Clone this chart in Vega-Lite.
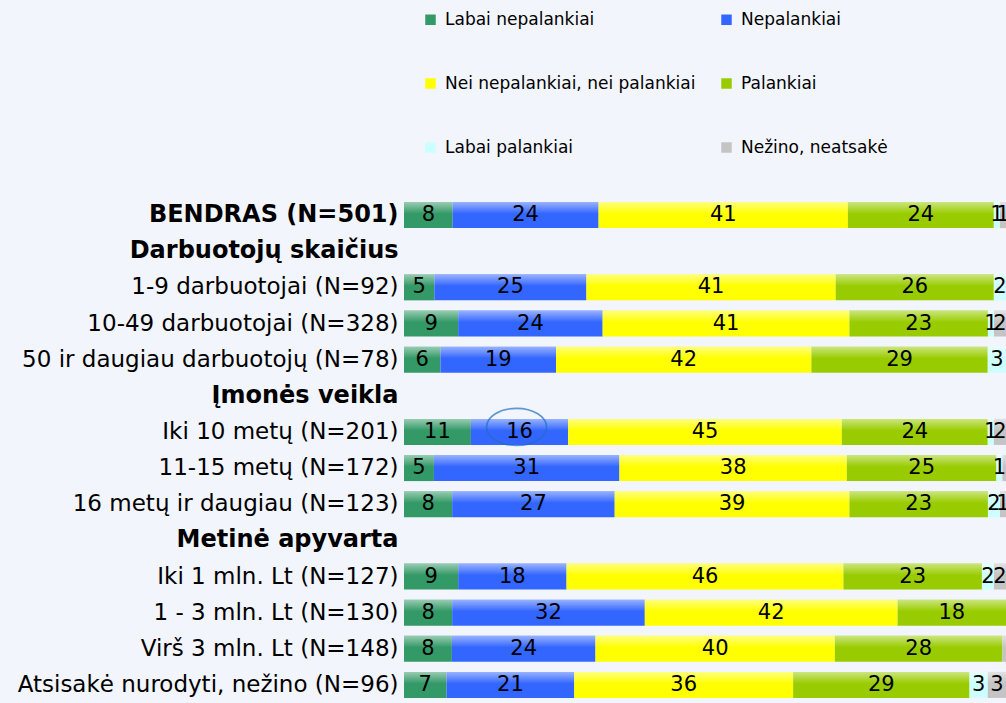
{
  "$schema": "https://vega.github.io/schema/vega-lite/v6.json",
  "width": 602,
  "height": 506,
  "autosize": {"type": "none"},
  "padding": {"left": 404, "top": 197, "right": 0, "bottom": 0},
  "background": "#F2F5FB",
  "config": {"view": {"stroke": null}, "font": "DejaVu Sans"},
  "datasets": {
    "answers": [
      {"group": "BENDRAS (N=501)", "answer": "Labai nepalankiai", "code": 1, "value": 8},
      {"group": "BENDRAS (N=501)", "answer": "Nepalankiai", "code": 2, "value": 24},
      {"group": "BENDRAS (N=501)", "answer": "Nei nepalankiai, nei palankiai", "code": 3, "value": 41},
      {"group": "BENDRAS (N=501)", "answer": "Palankiai", "code": 4, "value": 24},
      {"group": "BENDRAS (N=501)", "answer": "Labai palankiai", "code": 5, "value": 1},
      {"group": "BENDRAS (N=501)", "answer": "Nežino, neatsakė", "code": 6, "value": 1},
      {"group": "1-9 darbuotojai (N=92)", "answer": "Labai nepalankiai", "code": 1, "value": 5},
      {"group": "1-9 darbuotojai (N=92)", "answer": "Nepalankiai", "code": 2, "value": 25},
      {"group": "1-9 darbuotojai (N=92)", "answer": "Nei nepalankiai, nei palankiai", "code": 3, "value": 41},
      {"group": "1-9 darbuotojai (N=92)", "answer": "Palankiai", "code": 4, "value": 26},
      {"group": "1-9 darbuotojai (N=92)", "answer": "Labai palankiai", "code": 5, "value": 2},
      {"group": "10-49 darbuotojai (N=328)", "answer": "Labai nepalankiai", "code": 1, "value": 9},
      {"group": "10-49 darbuotojai (N=328)", "answer": "Nepalankiai", "code": 2, "value": 24},
      {"group": "10-49 darbuotojai (N=328)", "answer": "Nei nepalankiai, nei palankiai", "code": 3, "value": 41},
      {"group": "10-49 darbuotojai (N=328)", "answer": "Palankiai", "code": 4, "value": 23},
      {"group": "10-49 darbuotojai (N=328)", "answer": "Labai palankiai", "code": 5, "value": 1},
      {"group": "10-49 darbuotojai (N=328)", "answer": "Nežino, neatsakė", "code": 6, "value": 2},
      {"group": "50 ir daugiau darbuotojų (N=78)", "answer": "Labai nepalankiai", "code": 1, "value": 6},
      {"group": "50 ir daugiau darbuotojų (N=78)", "answer": "Nepalankiai", "code": 2, "value": 19},
      {"group": "50 ir daugiau darbuotojų (N=78)", "answer": "Nei nepalankiai, nei palankiai", "code": 3, "value": 42},
      {"group": "50 ir daugiau darbuotojų (N=78)", "answer": "Palankiai", "code": 4, "value": 29},
      {"group": "50 ir daugiau darbuotojų (N=78)", "answer": "Labai palankiai", "code": 5, "value": 3},
      {"group": "Iki 10 metų (N=201)", "answer": "Labai nepalankiai", "code": 1, "value": 11},
      {"group": "Iki 10 metų (N=201)", "answer": "Nepalankiai", "code": 2, "value": 16},
      {"group": "Iki 10 metų (N=201)", "answer": "Nei nepalankiai, nei palankiai", "code": 3, "value": 45},
      {"group": "Iki 10 metų (N=201)", "answer": "Palankiai", "code": 4, "value": 24},
      {"group": "Iki 10 metų (N=201)", "answer": "Labai palankiai", "code": 5, "value": 1},
      {"group": "Iki 10 metų (N=201)", "answer": "Nežino, neatsakė", "code": 6, "value": 2},
      {"group": "11-15 metų (N=172)", "answer": "Labai nepalankiai", "code": 1, "value": 5},
      {"group": "11-15 metų (N=172)", "answer": "Nepalankiai", "code": 2, "value": 31},
      {"group": "11-15 metų (N=172)", "answer": "Nei nepalankiai, nei palankiai", "code": 3, "value": 38},
      {"group": "11-15 metų (N=172)", "answer": "Palankiai", "code": 4, "value": 25},
      {"group": "11-15 metų (N=172)", "answer": "Labai palankiai", "code": 5, "value": 1},
      {"group": "11-15 metų (N=172)", "answer": "Nežino, neatsakė", "code": 6, "value": 0.6},
      {"group": "16 metų ir daugiau (N=123)", "answer": "Labai nepalankiai", "code": 1, "value": 8},
      {"group": "16 metų ir daugiau (N=123)", "answer": "Nepalankiai", "code": 2, "value": 27},
      {"group": "16 metų ir daugiau (N=123)", "answer": "Nei nepalankiai, nei palankiai", "code": 3, "value": 39},
      {"group": "16 metų ir daugiau (N=123)", "answer": "Palankiai", "code": 4, "value": 23},
      {"group": "16 metų ir daugiau (N=123)", "answer": "Labai palankiai", "code": 5, "value": 2},
      {"group": "16 metų ir daugiau (N=123)", "answer": "Nežino, neatsakė", "code": 6, "value": 1},
      {"group": "Iki 1 mln. Lt (N=127)", "answer": "Labai nepalankiai", "code": 1, "value": 9},
      {"group": "Iki 1 mln. Lt (N=127)", "answer": "Nepalankiai", "code": 2, "value": 18},
      {"group": "Iki 1 mln. Lt (N=127)", "answer": "Nei nepalankiai, nei palankiai", "code": 3, "value": 46},
      {"group": "Iki 1 mln. Lt (N=127)", "answer": "Palankiai", "code": 4, "value": 23},
      {"group": "Iki 1 mln. Lt (N=127)", "answer": "Labai palankiai", "code": 5, "value": 2},
      {"group": "Iki 1 mln. Lt (N=127)", "answer": "Nežino, neatsakė", "code": 6, "value": 2},
      {"group": "1 - 3 mln. Lt (N=130)", "answer": "Labai nepalankiai", "code": 1, "value": 8},
      {"group": "1 - 3 mln. Lt (N=130)", "answer": "Nepalankiai", "code": 2, "value": 32},
      {"group": "1 - 3 mln. Lt (N=130)", "answer": "Nei nepalankiai, nei palankiai", "code": 3, "value": 42},
      {"group": "1 - 3 mln. Lt (N=130)", "answer": "Palankiai", "code": 4, "value": 18},
      {"group": "Virš 3 mln. Lt (N=148)", "answer": "Labai nepalankiai", "code": 1, "value": 8},
      {"group": "Virš 3 mln. Lt (N=148)", "answer": "Nepalankiai", "code": 2, "value": 24},
      {"group": "Virš 3 mln. Lt (N=148)", "answer": "Nei nepalankiai, nei palankiai", "code": 3, "value": 40},
      {"group": "Virš 3 mln. Lt (N=148)", "answer": "Palankiai", "code": 4, "value": 28},
      {"group": "Virš 3 mln. Lt (N=148)", "answer": "Nežino, neatsakė", "code": 6, "value": 0.6},
      {"group": "Atsisakė nurodyti, nežino (N=96)", "answer": "Labai nepalankiai", "code": 1, "value": 7},
      {"group": "Atsisakė nurodyti, nežino (N=96)", "answer": "Nepalankiai", "code": 2, "value": 21},
      {"group": "Atsisakė nurodyti, nežino (N=96)", "answer": "Nei nepalankiai, nei palankiai", "code": 3, "value": 36},
      {"group": "Atsisakė nurodyti, nežino (N=96)", "answer": "Palankiai", "code": 4, "value": 29},
      {"group": "Atsisakė nurodyti, nežino (N=96)", "answer": "Labai palankiai", "code": 5, "value": 3},
      {"group": "Atsisakė nurodyti, nežino (N=96)", "answer": "Nežino, neatsakė", "code": 6, "value": 3}
    ],
    "highlight": [
      {"group": "Iki 10 metų (N=201)", "share": 0.187}
    ]
  },
  "encoding": {
    "y": {
      "field": "group",
      "type": "nominal",
      "sort": null,
      "scale": {
        "domain": [
          "BENDRAS (N=501)",
          "Darbuotojų skaičius",
          "1-9 darbuotojai (N=92)",
          "10-49 darbuotojai (N=328)",
          "50 ir daugiau darbuotojų (N=78)",
          "Įmonės veikla",
          "Iki 10 metų (N=201)",
          "11-15 metų (N=172)",
          "16 metų ir daugiau (N=123)",
          "Metinė apyvarta",
          "Iki 1 mln. Lt (N=127)",
          "1 - 3 mln. Lt (N=130)",
          "Virš 3 mln. Lt (N=148)",
          "Atsisakė nurodyti, nežino (N=96)"
        ],
        "paddingInner": 0.28,
        "paddingOuter": 0.14
      },
      "axis": {
        "title": null,
        "ticks": false,
        "domain": false,
        "labelColor": "#000000",
        "labelPadding": 6,
        "labelLimit": 500,
        "labelFontSize": {
          "condition": {
            "test": "indexof(['BENDRAS (N=501)', 'Darbuotojų skaičius', 'Įmonės veikla', 'Metinė apyvarta'], datum.value) >= 0",
            "value": 24
          },
          "value": 23
        },
        "labelFontWeight": {
          "condition": {
            "test": "indexof(['BENDRAS (N=501)', 'Darbuotojų skaičius', 'Įmonės veikla', 'Metinė apyvarta'], datum.value) >= 0",
            "value": "bold"
          },
          "value": "normal"
        }
      }
    }
  },
  "layer": [
    {
      "data": {"name": "answers"},
      "transform": [
        {"stack": "value", "groupby": ["group"], "sort": [{"field": "code", "order": "ascending"}], "offset": "normalize", "as": ["x0", "x1"]},
        {"calculate": "(datum.x0 + datum.x1) / 2", "as": "xm"}
      ],
      "layer": [
        {
          "mark": {"type": "bar"},
          "encoding": {
            "x": {"field": "x0", "type": "quantitative", "scale": {"domain": [0, 1]}, "axis": null},
            "x2": {"field": "x1"},
            "color": {
              "field": "answer",
              "type": "nominal",
              "scale": {
                "domain": ["Labai nepalankiai", "Nepalankiai", "Nei nepalankiai, nei palankiai", "Palankiai", "Labai palankiai", "Nežino, neatsakė"],
                "range": ["#339966", "#3366FF", "#FFFF00", "#99CC00", "#CCFFFF", "#C4C4C4"]
              },
              "legend": {
                "orient": "none",
                "direction": "horizontal",
                "legendX": 18,
                "legendY": -186,
                "columns": 2,
                "title": null,
                "symbolType": "square",
                "symbolSize": 110,
                "symbolStrokeWidth": 0,
                "labelFontSize": 17,
                "labelColor": "#000000",
                "labelOffset": 6,
                "rowPadding": 46,
                "columnPadding": 22,
                "padding": 0,
                "labelLimit": 400
              }
            }
          }
        },
        {
          "mark": {
            "type": "bar",
            "fill": {
              "gradient": "linear",
              "x1": 0, "y1": 0, "x2": 0, "y2": 1,
              "stops": [
                {"offset": 0, "color": "rgba(255,255,255,0.5)"},
                {"offset": 0.45, "color": "rgba(255,255,255,0)"},
                {"offset": 1, "color": "rgba(255,255,255,0)"}
              ]
            }
          },
          "encoding": {
            "x": {"field": "x0", "type": "quantitative"},
            "x2": {"field": "x1"}
          }
        },
        {
          "mark": {"type": "text", "fontSize": 21, "color": "#000000", "baseline": "middle", "align": "center"},
          "encoding": {
            "x": {"field": "xm", "type": "quantitative"},
            "text": {"condition": {"test": "datum.value >= 1", "field": "value"}, "value": ""}
          }
        }
      ]
    },
    {
      "data": {"name": "highlight"},
      "mark": {
        "type": "point",
        "shape": "M-1,0A1,0.62 0 1,1 1,0A1,0.62 0 1,1 -1,0Z",
        "size": 3600,
        "filled": false,
        "stroke": "#1F6FC0",
        "strokeWidth": 1.6,
        "yOffset": -5
      },
      "encoding": {
        "x": {"field": "share", "type": "quantitative"}
      }
    }
  ]
}
